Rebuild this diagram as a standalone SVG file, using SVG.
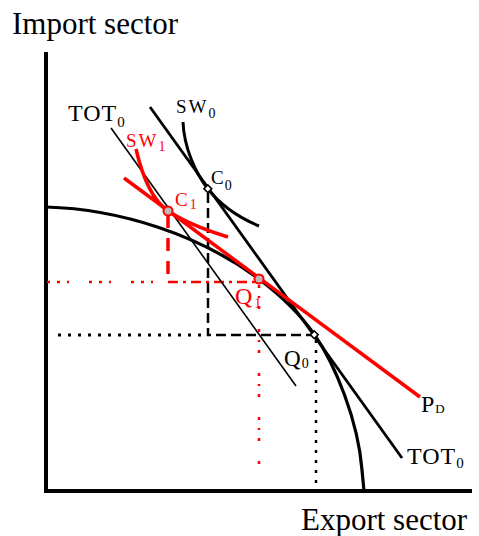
<svg xmlns="http://www.w3.org/2000/svg" width="479" height="536" viewBox="0 0 479 536">
<style>
text{font-family:"Liberation Serif","Times New Roman",serif;fill:#000}
.red{fill:#ff0000}
.k{stroke:#000;fill:none}
.r{stroke:#ff0000;fill:none}
</style>
<rect width="479" height="536" fill="#fff"/>
<g id="axes">
<path class="k" d="M46,52 V491 H472" stroke-width="4"/>
<text x="12" y="34" font-size="31">Import sector</text>
<text x="301" y="530" font-size="31">Export sector</text>
</g>
<g id="guides">
<path class="r" d="M47,282 H168" stroke-width="2.5" stroke-dasharray="3,7,3,7,2,20"/>
<path class="r" d="M168,282 H255" stroke-width="2.5" stroke-dasharray="10,5,3,5"/>
<path class="r" d="M168,215 V282" stroke-width="3.5" stroke-dasharray="13,10"/>
<path class="r" d="M259,285 V470" stroke-width="2.5" stroke-dasharray="3,8,2,8,3,20"/>
<path class="k" d="M58,335 H208" stroke-width="3" stroke-dasharray="3,7"/>
<path class="k" d="M208,193 V335 H312" stroke-width="2.5" stroke-dasharray="10,5"/>
<path class="k" d="M316,340 V491" stroke-width="2.5" stroke-dasharray="3,7"/>
</g>
<g id="curves">
<path id="ppf" class="k" stroke-width="3.2" d="M46,207 C120,209 200,235 259,279 C280,295 300,314 314,334 C335,364 358,420 362,470 L364,491"/>
<path id="tot-thin" class="k" stroke-width="1.6" d="M111,128 L296,386"/>
<path id="tot-thick" class="k" stroke-width="2.8" d="M150,107 L402,458"/>
<path id="sw0" class="k" stroke-width="3" d="M183,122 C184,148 196,174 208,189 C222,207 240,218 259,226"/>
<path id="pd" class="r" stroke-width="3.5" d="M124,178 L420,397"/>
<path id="sw1" class="r" stroke-width="3.5" d="M136,149 C142,175 152,200 168,211 C185,222 205,230 228,237"/>
</g>
<g id="points">
<circle id="c1" cx="168" cy="211" r="4.5" fill="#bbbbbb" stroke="#ff0000" stroke-width="2"/>
<circle id="q1" cx="259" cy="279" r="4.5" fill="#bbbbbb" stroke="#ff0000" stroke-width="2"/>
<rect id="c0" x="205" y="186" width="5.5" height="5.5" transform="rotate(45 207.8 188.8)" fill="#fff" stroke="#000" stroke-width="1.6"/>
<rect id="q0" x="311.5" y="332" width="5.5" height="5.5" transform="rotate(45 314.2 334.8)" fill="#fff" stroke="#000" stroke-width="1.6"/>
</g>
<g id="labels">
<text x="68" y="121" font-size="24" letter-spacing="1">TOT<tspan font-size="15" dy="6">0</tspan></text>
<text x="176" y="113" font-size="19" letter-spacing="2">SW<tspan font-size="14" dy="5">0</tspan></text>
<text class="red" x="126" y="147" font-size="19" letter-spacing="2">SW<tspan font-size="14" dy="4">1</tspan></text>
<text x="211" y="184" font-size="19">C<tspan font-size="14" dx="1" dy="6">0</tspan></text>
<text class="red" x="175" y="206" font-size="19">C<tspan font-size="14" dx="2" dy="3">1</tspan></text>
<text class="red" x="235" y="304" font-size="24">Q<tspan font-size="14" dx="2" dy="4">1</tspan></text>
<text x="284" y="366" font-size="23">Q<tspan font-size="14" dx="1" dy="2">0</tspan></text>
<text x="421" y="412" font-size="24">P<tspan font-size="13" dx="1" dy="1">D</tspan></text>
<text x="407" y="464" font-size="24" letter-spacing="1">TOT<tspan font-size="15" dy="4">0</tspan></text>
</g>
</svg>
